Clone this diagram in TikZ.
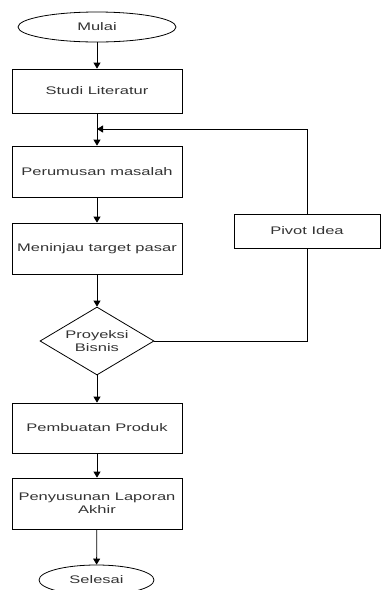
\documentclass[tikz,border=0pt]{standalone}
\usepackage{fontspec}
\setmainfont{Liberation Sans}[FakeStretch=1.5]
\usetikzlibrary{shapes.geometric,arrows.meta}
\begin{document}
\begin{tikzpicture}[x=1pt,y=-1pt,
  every node/.style={font=\fontsize{11}{13}\selectfont, text=black!80, align=center},
  box/.style={draw, line width=0.8pt, rectangle, inner sep=0pt, minimum width=170pt},
  term/.style={draw, line width=0.8pt, ellipse, inner sep=0pt},
  decide/.style={draw, line width=0.8pt, diamond, inner sep=0pt, shape aspect=1.7, minimum width=114pt, minimum height=68pt},
  flow/.style={line width=0.8pt, -{Triangle[length=6pt,width=7pt]}},
  plain/.style={line width=0.8pt}]
\useasboundingbox (0,0) rectangle (381,590);
\node[term, minimum width=158pt, minimum height=30pt] (mulai) at (97,27) {Mulai};
\node[box, minimum height=44pt] (studi) at (97,91) {Studi Literatur};
\node[box, minimum height=51pt] (rumus) at (97,171.5) {Perumusan masalah};
\node[box, minimum height=51pt] (tinjau) at (97,248.5) {Meninjau target pasar};
\node[decide] (proy) at (97,341) {Proyeksi\\Bisnis};
\node[box, minimum height=50pt] (buat) at (97,428) {Pembuatan Produk};
\node[box, minimum height=51pt] (susun) at (97,503.5) {Penyusunan Laporan\\Akhir};
\node[term, minimum width=115pt, minimum height=30pt] (selesai) at (96.5,580) {Selesai};
\node[box, minimum width=146pt, minimum height=34pt] (pivot) at (307,231) {Pivot Idea};
\coordinate (join) at (97,129);
\draw[flow] (mulai) -- (studi);
\draw[flow] (studi) -- (rumus);
\draw[flow] (rumus) -- (tinjau);
\draw[flow] (tinjau) -- (proy);
\draw[flow] (proy) -- (buat);
\draw[flow] (buat) -- (susun);
\draw[flow] (susun) -- (selesai);
\draw[plain] (proy.east) -| (pivot.south);
\draw[flow] (pivot.north) |- (join);
\end{tikzpicture}
\end{document}
